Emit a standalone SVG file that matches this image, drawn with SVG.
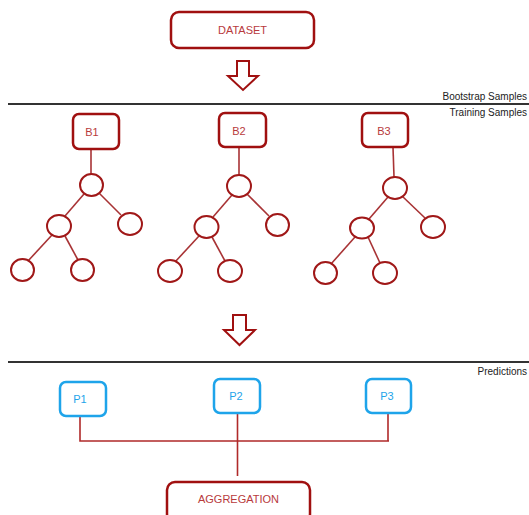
<svg xmlns="http://www.w3.org/2000/svg" width="529" height="515" viewBox="0 0 529 515">
<style>
.box{fill:#fff;stroke:#a01010;stroke-width:2.5}
.pbox{fill:#fff;stroke:#1ea4ea;stroke-width:2.5}
.lbl{font-family:"Liberation Sans",Arial,sans-serif;font-size:11px;fill:#b83a3c;text-anchor:middle}
.plbl{font-family:"Liberation Sans",Arial,sans-serif;font-size:11px;fill:#1ea4ea;text-anchor:middle}
.cap{font-family:"Liberation Sans",Arial,sans-serif;font-size:10px;fill:#222;text-anchor:end}
.node{fill:#fff;stroke:#a01818;stroke-width:2}
.edge{stroke:#a83335;stroke-width:1.6;fill:none}
.conn{stroke:#b02a2a;stroke-width:1.6;fill:none}
.sep{stroke:#333;stroke-width:2}
.arrow{fill:#fff;stroke:#a01010;stroke-width:2;stroke-linejoin:miter}
</style>
<rect width="529" height="515" fill="#fff"/>
<g id="dataset"><rect class="box" x="171" y="12" width="143" height="36" rx="8"/><text class="lbl" x="242.5" y="34">DATASET</text></g>
<g id="arrow1"><polygon class="arrow" points="237,61 249,61 249,76 258,76 243,90 228,76 237,76"/></g>
<line class="sep" x1="8" y1="104" x2="529" y2="104"/>
<text class="cap" x="527" y="100">Bootstrap Samples</text>
<text class="cap" x="527" y="116">Training Samples</text>
<g id="edges">
<line class="edge" x1="91" y1="149" x2="91" y2="174"/>
<line class="edge" x1="84" y1="194" x2="65" y2="216"/>
<line class="edge" x1="99" y1="193" x2="121" y2="215"/>
<line class="edge" x1="52" y1="235" x2="28" y2="261"/>
<line class="edge" x1="65" y1="236" x2="78" y2="260"/>
<line class="edge" x1="239" y1="147" x2="239" y2="175"/>
<line class="edge" x1="232" y1="195" x2="213" y2="217"/>
<line class="edge" x1="247" y1="194" x2="269" y2="216"/>
<line class="edge" x1="199" y1="236" x2="175" y2="262"/>
<line class="edge" x1="212" y1="237" x2="225" y2="261"/>
<line class="edge" x1="393" y1="147" x2="394" y2="177"/>
<line class="edge" x1="388" y1="197" x2="369" y2="219"/>
<line class="edge" x1="402" y1="196" x2="425" y2="218"/>
<line class="edge" x1="355" y1="237" x2="331" y2="264"/>
<line class="edge" x1="368" y1="237" x2="380" y2="263"/>
</g>
<g id="b1"><rect class="box" x="73" y="114" width="46" height="35" rx="6"/><text class="lbl" x="92" y="136">B1</text></g>
<g id="t1">
<ellipse class="node" cx="91.5" cy="185" rx="11.5" ry="11"/>
<ellipse class="node" cx="59" cy="226" rx="12" ry="11"/>
<ellipse class="node" cx="130" cy="224" rx="12" ry="11"/>
<ellipse class="node" cx="22.5" cy="270" rx="11.5" ry="11"/>
<ellipse class="node" cx="82.5" cy="270" rx="11.5" ry="11"/>
</g>
<g id="b2"><rect class="box" x="219" y="113" width="47" height="34" rx="6"/><text class="lbl" x="239" y="135">B2</text></g>
<g id="t2">
<ellipse class="node" cx="239" cy="186" rx="12" ry="11"/>
<ellipse class="node" cx="206.5" cy="227" rx="12" ry="11"/>
<ellipse class="node" cx="277.5" cy="225" rx="11.5" ry="11"/>
<ellipse class="node" cx="170" cy="271" rx="12" ry="11"/>
<ellipse class="node" cx="230" cy="271" rx="12" ry="11"/>
</g>
<g id="b3"><rect class="box" x="362" y="113" width="46" height="34" rx="6"/><text class="lbl" x="384" y="135">B3</text></g>
<g id="t3">
<ellipse class="node" cx="395" cy="188" rx="12" ry="11"/>
<ellipse class="node" cx="362" cy="228" rx="12" ry="10.5"/>
<ellipse class="node" cx="433" cy="227" rx="12" ry="11"/>
<ellipse class="node" cx="325.5" cy="273" rx="11.5" ry="11"/>
<ellipse class="node" cx="385" cy="273" rx="12" ry="11"/>
</g>
<g id="arrow2"><polygon class="arrow" points="233,315 246,315 246,330 255,330 239.5,345 224,330 233,330"/></g>
<line class="sep" x1="8" y1="362" x2="529" y2="362"/>
<text class="cap" x="527" y="375">Predictions</text>
<g id="connectors">
<polyline class="conn" points="80,416 80,441 389,441"/>
<line class="conn" x1="388" y1="413" x2="388" y2="441"/>
<line class="conn" x1="237.5" y1="413" x2="237.5" y2="476"/>
</g>
<g id="p1"><rect class="pbox" x="60" y="382" width="46" height="34" rx="6"/><text class="plbl" x="80" y="403">P1</text></g>
<g id="p2"><rect class="pbox" x="214" y="379" width="46" height="34" rx="6"/><text class="plbl" x="236" y="400">P2</text></g>
<g id="p3"><rect class="pbox" x="366" y="379" width="45" height="34" rx="6"/><text class="plbl" x="387" y="400">P3</text></g>
<g id="aggregation"><rect class="box" x="167" y="482" width="143" height="40" rx="8"/><text class="lbl" x="238.5" y="503">AGGREGATION</text></g>
</svg>
